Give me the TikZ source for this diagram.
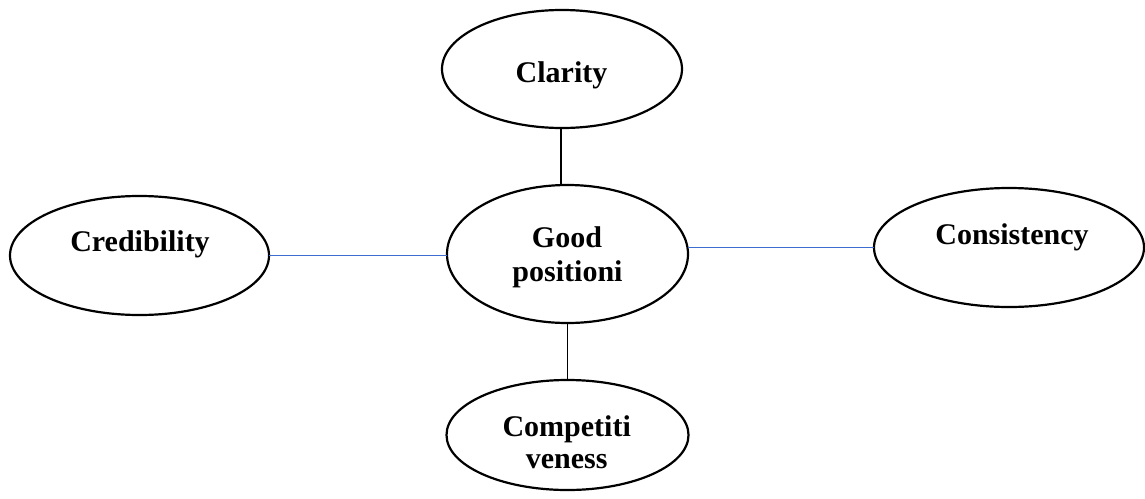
\documentclass[tikz,border=0pt]{standalone}
\usepackage{fontspec}
\setmainfont{Liberation Serif}
\usetikzlibrary{shapes.geometric}
\definecolor{linkblue}{RGB}{60,110,210}
\tikzset{
  oval/.style={ellipse, draw=black, line width=2.2pt, inner sep=0pt, outer sep=0pt},
  lbl/.style={anchor=base, inner sep=0pt, font=\fontsize{30}{34}\selectfont\bfseries, align=center},
  blackcon/.style={draw=black, line width=1.1pt},
  bluecon/.style={draw=linkblue, line width=1.3pt}
}
\begin{document}
\begin{tikzpicture}[x=1pt, y=-1pt]
\useasboundingbox (0,0) rectangle (1145,498);
\node[oval, minimum width=240pt, minimum height=118pt] (clar) at (562,69) {};
\node[oval, minimum width=241pt, minimum height=138pt] (good) at (567.5,254) {};
\node[oval, minimum width=259pt, minimum height=119pt] (cred) at (139.5,255.5) {};
\node[oval, minimum width=270pt, minimum height=119pt] (cons) at (1009,247.5) {};
\node[oval, minimum width=242pt, minimum height=110pt] (comp) at (567.5,435) {};
\node[lbl] (tclar) at (561.5,82) {Clarity};
\node[lbl] (tgood1) at (567,247.7) {Good};
\node[lbl] (tgood2) at (567.5,281.7) {positioni};
\node[lbl] (tcred) at (140,251.7) {Credibility};
\node[lbl] (tcons) at (1012,244) {Consistency};
\node[lbl] (tcomp1) at (566.7,436) {Competiti};
\node[lbl] (tcomp2) at (566.7,468.3) {veness};
\draw[blackcon] ([xshift=-1pt]clar.south) -- ([xshift=-1pt]clar.south |- good.north);
\draw[blackcon] (good.south) -- (comp.north);
\draw[bluecon] (cred.east) -- (cred.east -| good.west);
\draw[bluecon] (good.east |- cons.west) -- (cons.west);
\end{tikzpicture}
\end{document}
